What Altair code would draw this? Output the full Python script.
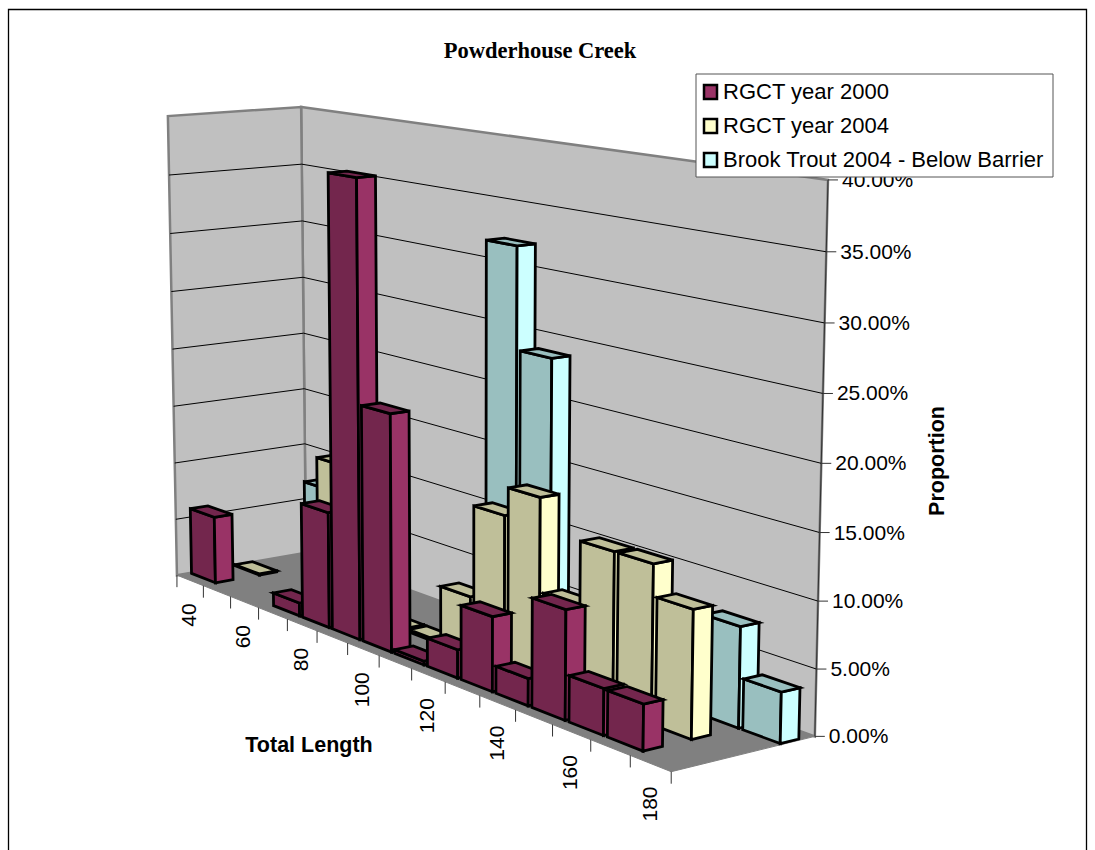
import altair as alt
import numpy as np

# Length classes (mm) and proportion of fish (%) per class
lengths = list(range(40, 190, 10))
rgct_2000 = [5.8, 0, 0, 1.1, 9.6, 37.2, 19.2, 0.3, 2.25, 5.85, 2.1, 8.35, 3.5, 3.45, 0]
rgct_2004 = [0.1, 0, 0, 12.1, 0, 0.2, 0.2, 4.75, 12.15, 14.4, 7.05, 12.0, 12.0, 9.6, 0]
brook_2004 = [0, 7.8, 0, 0, 0, 0, 0, 32.1, 23.9, 0, 0, 0, 0, 7.6, 3.8]

series_names = ["RGCT year 2000", "RGCT year 2004", "Brook Trout 2004 - Below Barrier"]
series_values = [rgct_2000, rgct_2004, brook_2004]
side_colors = ["#993366", "#FFFFCC", "#CCFFFF"]
face_colors = ["#73264D", "#BFBF99", "#99BFBF"]
percent_ticks = [0, 5, 10, 15, 20, 25, 30, 35, 40]
label_lengths = [40, 60, 80, 100, 120, 140, 160, 180]

N_CAT = len(lengths)
Z_MAX = 40.0

# Camera: the box corners (category, depth, height) and where they land on the page
box_corners = [(0, 0, 0), (1, 0, 0), (1, 1, 0), (0, 1, 0), (0, 1, 1), (1, 1, 1), (0, 0, 1)]
page_corners = [(177, 575), (671, 772), (815, 736), (306, 553), (301, 107), (828, 180), (168, 116)]


def fit_camera(world, page):
    rows = []
    for (a, b, c), (u, v) in zip(world, page):
        rows.append([a, b, c, 1, 0, 0, 0, 0, -u * a, -u * b, -u * c, -u])
        rows.append([0, 0, 0, 0, a, b, c, 1, -v * a, -v * b, -v * c, -v])
    return np.linalg.svd(np.array(rows, float))[2][-1].reshape(3, 4)


CAMERA = fit_camera(box_corners, page_corners)


def project(cat, depth, pct):
    p = CAMERA @ np.array([cat / N_CAT, depth, pct / Z_MAX, 1.0])
    return [float(p[0] / p[2]), float(p[1] / p[2])]


def polygon(points, fill, stroke, width):
    ring = points + [points[0]]
    return {"type": "Feature", "geometry": {"type": "Polygon", "coordinates": [ring]},
            "properties": {"fill": fill, "stroke": stroke, "sw": width}}


def line(points, stroke, width):
    return {"type": "Feature", "geometry": {"type": "LineString", "coordinates": points},
            "properties": {"stroke": stroke, "sw": width}}


def rect(x0, y0, x1, y1, fill, stroke, width):
    return polygon([[x0, y0], [x1, y0], [x1, y1], [x0, y1]], fill, stroke, width)


def shapes(features, filled=True):
    mark = alt.Chart(alt.Data(values=features)).mark_geoshape(
        filled=filled, **({} if filled else {"fill": None})
    )
    enc = {
        "stroke": alt.Stroke("properties.stroke:N", scale=None),
        "strokeWidth": alt.StrokeWidth("properties.sw:Q", scale=None),
    }
    if filled:
        enc["fill"] = alt.Fill("properties.fill:N", scale=None)
    return mark.encode(**enc).project(type="identity", scale=1, translate=[0, 0])


# Walls and floor
walls = [
    polygon([project(0, 1, 0), project(N_CAT, 1, 0), project(N_CAT, 1, 40), project(0, 1, 40)],
            "#C0C0C0", "#808080", 2.5),
    polygon([project(0, 0, 0), project(0, 1, 0), project(0, 1, 40), project(0, 0, 40)],
            "#C0C0C0", "#808080", 2.5),
    polygon([project(0, 0, 0), project(N_CAT, 0, 0), project(N_CAT, 1, 0), project(0, 1, 0)],
            "#808080", "#808080", 1),
]

# Gridlines, right axis, ticks
guides = []
for pct in percent_ticks[1:-1]:
    guides.append(line([project(0, 0, pct), project(0, 1, pct), project(N_CAT, 1, pct)], "#000000", 1))
guides.append(line([project(N_CAT, 1, 0), project(N_CAT, 1, 40)], "#333333", 1))
for pct in percent_ticks:
    a = project(N_CAT, 1, pct)
    guides.append(line([a, [a[0] + 10, a[1]]], "#333333", 1))
for i in range(N_CAT + 1):
    a = project(i, 0, 0)
    guides.append(line([a, [a[0], a[1] + 12]], "#333333", 1))

# Bars, painted back row first and left to right
BAR_INSET = 0.05
BAR_EDGE = 2.8
DEPTH_ROWS = [(0.10, 0.233), (0.433, 0.567), (0.767, 0.90)]
bars = []
for s in (2, 1, 0):
    d0, d1 = DEPTH_ROWS[s]
    for i, val in enumerate(series_values[s]):
        if val <= 0:
            continue
        c0, c1 = i + BAR_INSET, i + 1 - BAR_INSET
        bars.append(polygon([project(c0, d0, 0), project(c1, d0, 0), project(c1, d0, val), project(c0, d0, val)],
                            face_colors[s], "#000000", BAR_EDGE))
        bars.append(polygon([project(c1, d0, 0), project(c1, d1, 0), project(c1, d1, val), project(c1, d0, val)],
                            side_colors[s], "#000000", BAR_EDGE))
        bars.append(polygon([project(c0, d0, val), project(c1, d0, val), project(c1, d1, val), project(c0, d1, val)],
                            face_colors[s], "#000000", BAR_EDGE))

# Outer frame and legend box
frame = [rect(8.5, 9.5, 1086.5, 870, "#FFFFFF", "#000000", 1.3)]
legend_box = [rect(696, 74, 1053, 177, "#FFFFFF", "#555555", 1)]
legend_rows = [92, 126, 160]
for y, col in zip(legend_rows, side_colors):
    legend_box.append(rect(704, y - 7, 717, y + 7, col, "#000000", 2.5))


def text_layer(rows, **style):
    return alt.Chart(alt.Data(values=rows)).mark_text(**style).encode(
        x=alt.X("x:Q", scale=None, axis=None),
        y=alt.Y("y:Q", scale=None, axis=None),
        text="t:N",
    )


SANS = "Liberation Sans"
value_rows = []
for pct in percent_ticks:
    a = project(N_CAT, 1, pct)
    value_rows.append({"x": a[0] + 14, "y": a[1] + 1, "t": f"{pct:.2f}%"})
length_rows = []
for v in label_lengths:
    a = project((v - 40) / 10 + 0.5, 0, 0)
    length_rows.append({"x": a[0], "y": a[1] + 23, "t": str(v)})

chart = alt.layer(
    shapes(frame),
    shapes(walls),
    shapes(guides, filled=False),
    shapes(bars),
    text_layer(value_rows, font=SANS, fontSize=21, align="left", baseline="middle", color="#000000"),
    text_layer(length_rows, font=SANS, fontSize=21, align="right", baseline="middle", angle=270, color="#000000"),
    text_layer([{"x": 540, "y": 51, "t": "Powderhouse Creek"}], font="Liberation Serif", fontSize=22.5,
               fontWeight="bold", align="center", baseline="middle", color="#000000"),
    text_layer([{"x": 309, "y": 746, "t": "Total Length"}], font=SANS, fontSize=21.5,
               fontWeight="bold", align="center", baseline="middle", color="#000000"),
    text_layer([{"x": 938, "y": 461, "t": "Proportion"}], font=SANS, fontSize=21.5, angle=270,
               fontWeight="bold", align="center", baseline="middle", color="#000000"),
    shapes(legend_box),
    text_layer([{"x": 723, "y": y, "t": t} for y, t in zip(legend_rows, series_names)],
               font=SANS, fontSize=22, align="left", baseline="middle", color="#000000"),
).resolve_scale(x="independent", y="independent").properties(
    width=1095, height=850, padding=0, autosize=alt.AutoSizeParams(type="none"),
    background="#FFFFFF",
).configure_view(stroke=None)

chart.save("out.html", embed_options={"renderer": "svg", "actions": False})
